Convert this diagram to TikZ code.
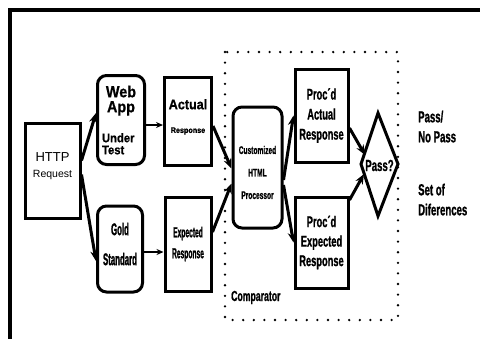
\documentclass[tikz,border=0pt]{standalone}
\usepackage{fontspec}
\setmainfont{Liberation Sans}[BoldFeatures={FakeBold=0.6}]
% condensed, heavy cuts of the same face
\newfontfamily\fG[FakeStretch=0.46,BoldFeatures={FakeBold=1.2}]{Liberation Sans}
\newfontfamily\fP[FakeStretch=0.6,BoldFeatures={FakeBold=1.0}]{Liberation Sans}
\newfontfamily\fA[FakeStretch=0.9,BoldFeatures={FakeBold=0.8}]{Liberation Sans}
\usetikzlibrary{arrows.meta,calc}
\lineskiplimit=-100pt
\lineskip=0pt

\begin{document}
\begin{tikzpicture}[x=1pt,y=-1pt,
  box/.style={draw,line width=3pt,inner sep=0pt,align=center},
  rbox/.style={box,rounded corners=9pt},
  flow/.style={line width=3pt,-{Stealth[length=10pt,width=8pt]}},
  thinflow/.style={line width=1.2pt,-{Stealth[length=7pt,width=6pt]}},
  note/.style={anchor=north west,align=left,inner sep=0pt,font=\fP\bfseries\fontsize{16}{20}\selectfont}]
\useasboundingbox (0,0) rectangle (480,338);

% outer frame (top and left rules)
\draw[line width=3.5pt] (10,340) -- (10,10) -- (482,10);

% comparator boundary
\draw[line width=2.6pt,dash pattern=on 0pt off 10.6pt,line cap=round] (225,52) rectangle (398,320);
\node[anchor=base west,inner sep=0pt,font=\fP\bfseries\fontsize{14.5}{16}\selectfont] (cmp) at (231,301) {Comparator};

% request and the two responders
\node[box,minimum width=55pt,minimum height=95pt,font=\fontsize{13}{16}\selectfont] (http) at (52.5,170.5)
  {HTTP\\{\fontsize{10.5}{12}\selectfont Request}\rule[-10pt]{0pt}{10pt}};
\node[rbox,minimum width=47pt,minimum height=89pt,font=\fA\bfseries\fontsize{16}{10}\selectfont] (web) at (121,120)
  {Web\\[5pt]App\\[20pt]{\bfseries\fontsize{12.5}{10}\selectfont\makebox[38pt][l]{Under}}\\[2pt]%
   {\bfseries\fontsize{12.5}{10}\selectfont\makebox[38pt][l]{Test}}};
\node[rbox,minimum width=45pt,minimum height=86pt,font=\fG\bfseries\fontsize{17}{30}\selectfont] (gold) at (120,249)
  {Gold\\Standard\rule[-10pt]{0pt}{10pt}};

% raw responses
\node[box,minimum width=47pt,minimum height=88pt,font=\fA\bfseries\fontsize{14}{10}\selectfont] (act) at (188,121)
  {Actual\\[13.7pt]{\bfseries\fontsize{8}{9}\selectfont Response}\rule[-10pt]{0pt}{10pt}};
\node[box,minimum width=46pt,minimum height=94pt,font=\fG\bfseries\fontsize{14.5}{21}\selectfont] (exp) at (188,244)
  {Expected\\Response};

% processor
\node[rbox,minimum width=49pt,minimum height=121pt,font=\fP\bfseries\fontsize{11}{22.5}\selectfont] (proc) at (257.5,167.5)
  {\rule{0pt}{18pt}Customized\\HTML\\Processor};

% processed responses
\node[box,minimum width=53pt,minimum height=93pt,font=\fP\bfseries\fontsize{15.5}{20}\selectfont] (pact) at (321.5,115.5)
  {Proc´d\\Actual\\Response};
\node[box,minimum width=53pt,minimum height=91pt,font=\fP\bfseries\fontsize{15.5}{19.5}\selectfont] (pexp) at (321.5,242.5)
  {Proc´d\\Expected\\Response};

% decision diamond
\coordinate (dT) at (378,113);
\coordinate (dR) at (398,164);
\coordinate (dB) at (378,216);
\coordinate (dL) at (361,164);
\draw[line width=3pt,line join=miter] (dT) -- (dR) -- (dB) -- (dL) -- cycle;
\node[anchor=base,inner sep=0pt,font=\fP\bfseries\fontsize{16}{18}\selectfont] (pass) at (379.5,171) {Pass?};
\coordinate (inA) at (365,155);
\coordinate (inE) at (364,174);

% outcomes
\node[note] (res) at (418,110.5) {Pass/\\No Pass};
\node[note] (diff) at (418,183.5) {Set of\\Diferences};

% connectors
\draw[flow] ([yshift=10pt]http.east) -- ([yshift=7pt]web.west);
\draw[flow] ([yshift=-4pt]http.east) -- ([yshift=-12pt]gold.west);
\draw[thinflow] ([yshift=-5pt]web.east) -- ([yshift=-4pt]act.west);
\draw[thinflow] ([yshift=-3pt]gold.east) -- ([yshift=-8pt]exp.west);
\draw[flow] ([yshift=-5pt]act.east) -- ([yshift=-1pt]proc.west);
\draw[flow] ([yshift=12pt]exp.east) -- ([yshift=-16pt]proc.west);
\draw[flow] ([yshift=-12.5pt]proc.east) -- (pact.west);
\draw[flow] ([yshift=-17.5pt]proc.east) -- (pexp.west);
\draw[flow] ([yshift=-12.5pt]pact.east) -- (inA);
\draw[flow] ([yshift=42.5pt]pexp.east) -- (inE);
\end{tikzpicture}
\end{document}
